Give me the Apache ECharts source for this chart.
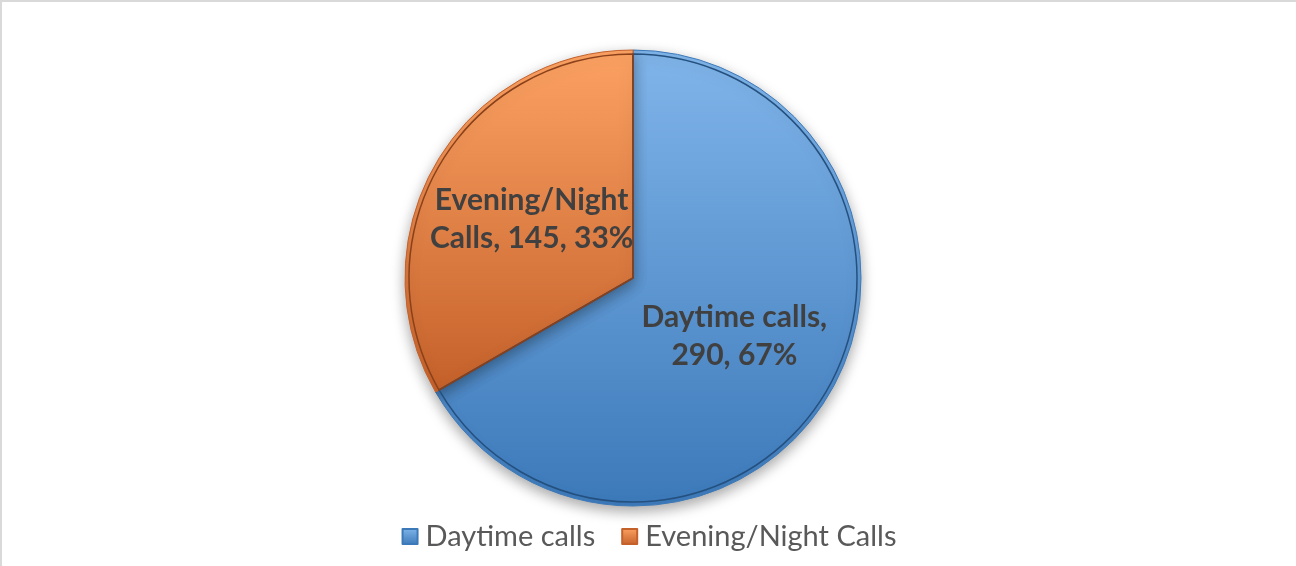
<!DOCTYPE html>
<html>
<head>
<meta charset="utf-8">
<script src="https://cdn.jsdelivr.net/npm/echarts@6/dist/echarts.min.js"></script>
<style>
  html, body { margin: 0; padding: 0; background: #fff; }
  #chart { width: 1296px; height: 566px; box-sizing: border-box; border-top: 2px solid #d9d9d9; border-left: 2px solid #d9d9d9; }
</style>
</head>
<body>
<div id="chart"></div>
<script>
// data
const categories = ['Daytime calls', 'Evening/Night Calls']
const callCounts = [290, 145]
const sliceTop = ['#80b5ea', '#fca263']
const sliceBottom = ['#3c79b9', '#c4602a']
const sliceEdge = ['#24507f', '#8a4019']

var myChart = echarts.init(document.getElementById('chart'))

function grad(i) {
    return new echarts.graphic.LinearGradient(0, 0, 0, 1, [
        { offset: 0, color: sliceTop[i] },
        { offset: 1, color: sliceBottom[i] }
    ])
}

const pieData = categories.map((name, i) => ({
    name: name,
    value: callCounts[i],
    itemStyle: { color: grad(i), borderColor: sliceBottom[i] }
}))

// 内侧的深色描边，模拟 Excel 的斜面效果
const edgeData = categories.map((name, i) => ({
    name: name,
    value: callCounts[i],
    itemStyle: { color: 'rgba(0,0,0,0)', borderColor: sliceEdge[i], borderWidth: 1.5 }
}))

var option = {
    animation: false,
    legend: {
        bottom: 10,
        left: 'center',
        itemWidth: 15,
        itemHeight: 15,
        itemGap: 26,
        icon: 'rect',
        textStyle: { fontFamily: 'Lato', fontSize: 29, color: '#595959', padding: [0, 0, 0, 3] },
        data: categories
    },
    series: [
        {
            type: 'pie',
            center: [631, 276],
            radius: 228,
            startAngle: 90,
            clockwise: true,
            itemStyle: {
                borderWidth: 1,
                shadowBlur: 14,
                shadowOffsetY: 5,
                shadowColor: 'rgba(0,0,0,0.35)'
            },
            label: {
                position: 'inside',
                fontFamily: 'Lato',
                fontWeight: 'bold',
                fontSize: 30,
                lineHeight: 38,
                color: '#404040',
                formatter: function (p) {
                    let pct = Math.round(p.percent) + '%'
                    if (p.name.indexOf('/') > -1) {
                        let parts = p.name.split(' ')
                        return parts[0] + '\n' + parts.slice(1).join(' ') + ', ' + p.value + ', ' + pct
                    }
                    return p.name + ',\n' + p.value + ', ' + pct
                }
            },
            labelLine: { show: false },
            emphasis: { disabled: true },
            data: pieData
        },
        {
            type: 'pie',
            center: [631, 276],
            radius: 224,
            startAngle: 90,
            silent: true,
            label: { show: false },
            labelLine: { show: false },
            emphasis: { disabled: true },
            legendHoverLink: false,
            data: edgeData
        }
    ]
}

myChart.setOption(option)
window.addEventListener('resize', myChart.resize)
</script>
</body>
</html>
